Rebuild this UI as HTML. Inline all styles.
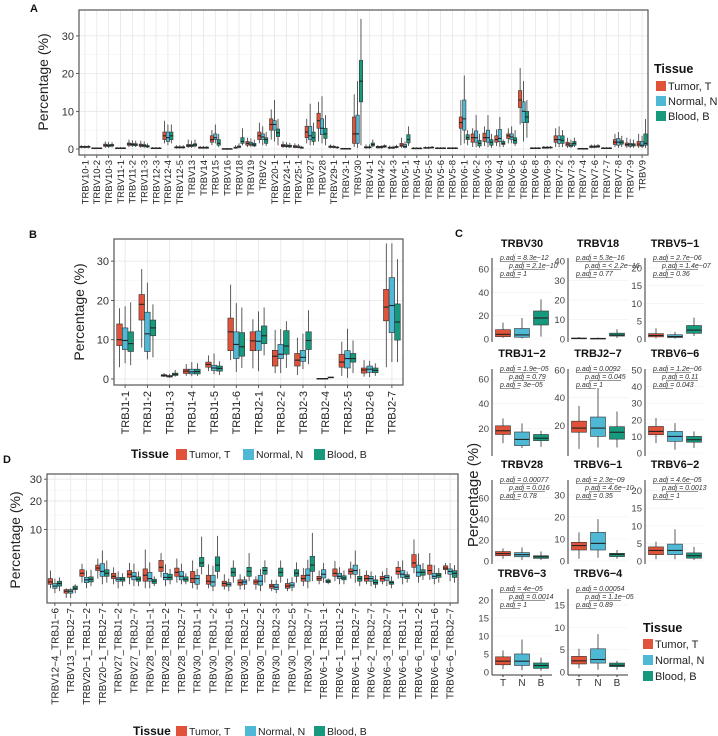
<!DOCTYPE html>
<html><head><meta charset="utf-8"><style>
body{margin:0;background:#fff;}
svg{display:block;font-family:"Liberation Sans",sans-serif;}
</style></head><body>
<svg id="fig" width="718" height="736" viewBox="0 0 718 736" xmlns="http://www.w3.org/2000/svg"></svg>
<script>
// ---------- data ----------
const groups = ["Tumor, T","Normal, N","Blood, B"];
const colors = ["#e0533a","#4fb8d4","#16997d"];

// Panel A: [lo,q1,med,q3,hi]
const catsA = ["TRBV10-1","TRBV10-2","TRBV10-3","TRBV11-1","TRBV11-2","TRBV11-3","TRBV12-3","TRBV12-4","TRBV12-5","TRBV13","TRBV14","TRBV15","TRBV16","TRBV18","TRBV19","TRBV2","TRBV20-1","TRBV24-1","TRBV25-1","TRBV27","TRBV28","TRBV29-1","TRBV3-1","TRBV30","TRBV4-1","TRBV4-2","TRBV4-3","TRBV5-1","TRBV5-4","TRBV5-5","TRBV5-6","TRBV5-8","TRBV6-1","TRBV6-2","TRBV6-3","TRBV6-4","TRBV6-5","TRBV6-6","TRBV6-8","TRBV6-9","TRBV7-2","TRBV7-3","TRBV7-4","TRBV7-6","TRBV7-7","TRBV7-8","TRBV7-9","TRBV9"];
const tumorA = [[0.2,0.4,0.6,0.7,1],[0,0.1,0.2,0.3,0.4],[0.3,0.7,1,1.3,2],[0,0.1,0.2,0.3,0.5],[0.5,1,1.3,1.6,2.5],[0.3,0.7,1,1.3,2.2],[0,0.1,0.2,0.3,0.5],[1.5,2.5,3.5,4.5,7.5],[0.1,0.3,0.4,0.6,1],[0.3,0.6,0.9,1.2,2.5],[0.1,0.2,0.3,0.5,0.8],[1,1.8,2.5,3.5,5],[0,0,0.05,0.1,0.2],[0.1,0.2,0.3,0.5,1],[0.5,1,1.5,2,3],[1.5,2.5,3.5,4.5,7],[2.5,5,6.5,8,10.5],[0.3,0.6,0.9,1.2,2],[0.2,0.4,0.6,0.9,1.5],[1.5,3,4.5,6,8],[2,5.5,7.5,9.5,12.5],[0.2,0.4,0.6,0.8,1.2],[0,0.05,0.1,0.15,0.3],[0.5,1.5,4,8.5,14.5],[0.1,0.3,0.4,0.6,1.2],[0.1,0.3,0.5,0.7,1],[0,0.2,0.3,0.5,0.9],[0.3,0.7,1,1.5,3],[0,0.1,0.15,0.25,0.5],[0.05,0.2,0.3,0.4,0.7],[0,0.1,0.2,0.3,0.5],[0,0.1,0.2,0.3,0.5],[1,5.5,7,8.5,13],[0.5,1.8,3,4,5.5],[0.8,2,3,4.2,6],[0.8,1.8,2.5,3.5,5.2],[1.5,2.8,3.5,4,5.5],[6.5,11,13,15.5,21.5],[0,0.1,0.2,0.3,0.5],[0.1,0.2,0.4,0.5,0.8],[0.5,1.8,2.5,3.5,5.5],[0.3,0.8,1.3,1.8,3],[0,0.05,0.1,0.15,0.3],[0.2,0.4,0.6,0.8,1.2],[0,0.1,0.2,0.3,0.5],[0.5,1.2,1.8,2.5,4],[0.3,0.8,1.2,1.6,3],[0.3,0.8,1.3,2,4]];
const normalA = [[0.2,0.4,0.5,0.7,1],[0,0.1,0.2,0.3,0.4],[0.3,0.6,0.9,1.2,1.9],[0,0.1,0.2,0.3,0.5],[0.5,0.9,1.2,1.5,2.3],[0.3,0.6,0.9,1.2,2],[0,0.1,0.2,0.3,0.5],[1,2,3,4.5,6.5],[0.1,0.3,0.4,0.6,1],[0.3,0.6,0.9,1.2,2.2],[0.1,0.2,0.3,0.5,0.8],[1.5,2.5,3,4,6.5],[0,0,0.05,0.1,0.2],[0.2,0.4,0.6,0.8,1.5],[0.5,1,1.3,1.8,2.8],[1,2.5,3.2,4,6],[2,5,6.5,7.5,13],[0.3,0.6,0.8,1.1,1.8],[0.2,0.4,0.5,0.8,1.3],[1,2.5,3.5,6,12],[1.5,3.8,5.5,8,14],[0.2,0.4,0.5,0.7,1.1],[0,0.05,0.1,0.15,0.3],[0.3,1.5,4,9,18],[0.1,0.3,0.4,0.6,1.2],[0.1,0.3,0.5,0.7,1],[0,0.2,0.3,0.5,0.9],[0.2,0.4,0.7,1.2,2],[0,0.1,0.15,0.25,0.5],[0.05,0.2,0.3,0.4,0.7],[0,0.1,0.2,0.3,0.5],[0,0.1,0.2,0.3,0.5],[1.5,5,8,13,19.5],[0.5,1.8,3,4.8,9],[0.5,1.8,3,5,9],[0.5,2,2.8,5.2,8.5],[1.5,2.5,3.2,4,6],[2,7,10,12.5,18],[0,0.1,0.2,0.3,0.5],[0.1,0.2,0.4,0.5,0.8],[0.5,1.5,2.5,3.5,6],[0.3,0.6,1,1.5,2.5],[0,0.05,0.1,0.15,0.3],[0.2,0.4,0.6,0.8,1.2],[0,0.1,0.2,0.3,0.5],[0.3,1,1.8,2.8,4.5],[0.3,0.7,1.1,1.5,2.6],[0.3,0.7,1,2,3.5]];
const bloodA = [[0.2,0.4,0.6,0.7,1],[0,0.1,0.2,0.3,0.4],[0.4,0.8,1,1.2,1.8],[0,0.1,0.2,0.3,0.5],[0.5,0.9,1.1,1.4,2.2],[0.3,0.5,0.7,0.9,1.5],[0,0.1,0.2,0.3,0.5],[1.5,2.5,3.5,4.5,6.5],[0.1,0.3,0.4,0.6,1],[0.4,0.8,1.1,1.4,2.5],[0.1,0.2,0.3,0.5,0.8],[0.5,1,1.5,2.5,4],[0,0,0.05,0.1,0.2],[1,1.5,2,3,5.5],[0.5,0.8,1.1,1.5,2.5],[0.8,1.5,2.5,3,4.5],[1,3.3,4.3,5.3,8],[0.3,0.5,0.8,1,1.6],[0.1,0.2,0.3,0.5,0.8],[1,2,3,4.5,7],[1,2.8,4,5.5,9],[0.1,0.3,0.4,0.5,0.8],[0,0.05,0.1,0.15,0.3],[1,12.5,18,23.5,34.5],[0.5,0.8,1.2,1.6,2.5],[0.3,0.5,0.7,0.9,1.2],[0.2,0.4,0.5,0.7,1.1],[0.8,1.6,2.5,3.8,6],[0,0.1,0.15,0.25,0.5],[0.1,0.3,0.4,0.5,0.8],[0,0.1,0.2,0.3,0.5],[0,0.1,0.2,0.3,0.5],[1,2.5,3,3.8,5],[0.3,0.8,1.5,2.3,4],[0.3,1,1.8,2.5,4],[0.5,1.2,1.5,2,2.5],[0.8,1.5,2.3,3,5],[3,7,8.5,10,13],[0,0.1,0.2,0.3,0.5],[0.1,0.3,0.4,0.5,0.8],[0.5,1.5,2.3,3.5,5],[0.5,1,1.5,2,3],[0,0.05,0.1,0.15,0.3],[0.3,0.5,0.7,0.9,1.3],[0,0.1,0.2,0.3,0.5],[0.5,1.3,1.8,2.2,3.5],[0.3,0.8,1.1,1.4,2.5],[0.3,1,1.5,4,8]];
const ticksA = [0,10,20,30];

// Panel B
const catsB = ["TRBJ1-1","TRBJ1-2","TRBJ1-3","TRBJ1-4","TRBJ1-5","TRBJ1-6","TRBJ2-1","TRBJ2-2","TRBJ2-3","TRBJ2-4","TRBJ2-5","TRBJ2-6","TRBJ2-7"];
const tumorB = [[3,8.5,10,14,18],[8,15,19,21.5,28],[0.5,0.7,0.9,1.1,1.5],[0.8,1.4,2,2.5,3.8],[2,3,3.7,4.3,6],[4.8,7.2,12,15.5,24],[2.7,7.2,9.7,12,15.2],[1.5,3.3,5.8,7.3,12.5],[1,3.3,4.8,6.5,10.5],[0,0.05,0.1,0.15,0.25],[0.8,3,4.3,6.3,9.5],[0.6,1.5,2.3,2.8,4.8],[3,14.8,18.3,22.8,34.5]];
const normalB = [[4,7.5,9.8,13,18.5],[5,7,11.5,17,24.5],[0.3,0.5,0.7,0.9,1.3],[0.7,1.3,1.8,2.5,4.3],[1.2,2.2,2.8,3.5,6.5],[1.8,5.2,8.8,12,19.3],[2,7.3,9.6,12.2,17.2],[1.5,5.2,6.3,8.8,12.7],[2.5,4.5,5.5,7.3,11.5],[0,0.05,0.1,0.15,0.25],[0.3,2.8,5.2,7.2,12.8],[0.5,1.7,2.5,3.3,4.6],[4.3,11.8,18.7,25.8,34.5]];
const bloodB = [[3.5,7,9,12,19.5],[5.5,11,13,15,19],[0.6,0.9,1.2,1.5,2.3],[0.8,1.3,1.9,2.5,4],[1,2,2.7,3.3,4.5],[2.8,5.8,8.2,11.8,18.2],[6,9,11,13.5,18.2],[2.8,6.3,8.4,12.3,14.7],[3.8,7.5,9.8,12,17.5],[0.2,0.3,0.4,0.5,0.6],[1.5,4.3,5.2,6.5,9.8],[0.8,1.6,2.2,2.8,4],[4.3,9.9,14.5,19.1,30.5]];
const ticksB = [0,10,20,30];

// Panel D (sqrt scale)
const catsD = ["TRBV12\u22124_TRBJ1\u22126","TRBV13_TRBJ2\u22127","TRBV20\u22121_TRBJ1\u22122","TRBV20\u22121_TRBJ2\u22127","TRBV27_TRBJ1\u22122","TRBV27_TRBJ2\u22127","TRBV28_TRBJ1\u22121","TRBV28_TRBJ1\u22122","TRBV28_TRBJ2\u22127","TRBV30_TRBJ1\u22121","TRBV30_TRBJ1\u22122","TRBV30_TRBJ1\u22126","TRBV30_TRBJ2\u22121","TRBV30_TRBJ2\u22122","TRBV30_TRBJ2\u22123","TRBV30_TRBJ2\u22125","TRBV30_TRBJ2\u22127","TRBV6\u22121_TRBJ1\u22121","TRBV6\u22121_TRBJ1\u22122","TRBV6\u22121_TRBJ2\u22127","TRBV6\u22122_TRBJ2\u22127","TRBV6\u22123_TRBJ2\u22127","TRBV6\u22126_TRBJ1\u22121","TRBV6\u22126_TRBJ1\u22122","TRBV6\u22126_TRBJ1\u22126","TRBV6\u22126_TRBJ2\u22127"];
const tumorD = [[0.2,0.4,0.55,0.8,1.6],[0,0.05,0.1,0.15,0.2],[0.5,1,1.3,1.7,2.5],[0.8,1.6,1.9,2.3,3.3],[0.4,0.8,1,1.3,2],[0.4,0.9,1.2,1.6,2.6],[0.2,0.6,1.1,1.8,5],[0.9,1.5,2,3,4.3],[0.5,1,1.4,1.9,3.3],[0.2,0.5,0.8,1.5,3],[0.2,0.4,0.6,1.1,2.4],[0.15,0.3,0.45,0.6,1.2],[0.15,0.35,0.5,0.7,1.2],[0.15,0.4,0.55,0.7,1],[0.1,0.2,0.3,0.4,0.7],[0.1,0.2,0.3,0.45,0.8],[0.3,0.6,0.8,1.1,1.9],[0.4,0.65,0.8,1,1.6],[0.6,1,1.3,1.8,2.9],[0.8,1.2,1.5,1.8,2.8],[0.4,0.6,0.8,1.1,1.6],[0.4,0.6,0.8,1,1.5],[0.8,1.2,1.5,2,2.9],[1.3,2,2.6,4,7.3],[0.7,1.2,1.6,2.3,4.3],[1.2,1.7,1.9,2.2,2.6]];
const normalD = [[0.05,0.2,0.3,0.45,0.8],[0,0.05,0.1,0.15,0.2],[0.2,0.5,0.7,0.9,1.6],[0.4,1,1.5,2.5,4.8],[0.2,0.6,0.75,0.9,1.5],[0.3,0.7,1,1.4,2.5],[0.2,0.6,0.8,1.4,2.7],[0.3,0.7,0.9,1.3,2.4],[0.4,0.7,1,1.5,2.5],[0.15,0.4,0.8,1.1,1.8],[0.1,0.3,0.55,1.1,2.2],[0.1,0.3,0.4,0.5,0.8],[0.15,0.4,0.55,0.7,1],[0.1,0.35,0.6,1.1,1.8],[0.05,0.15,0.25,0.4,0.7],[0.1,0.25,0.35,0.5,0.9],[0.2,0.6,1.1,1.8,3.1],[0.5,0.85,1.2,1.7,2.6],[0.4,0.8,1,1.3,2],[0.5,1.2,1.6,2.3,4.8],[0.3,0.6,0.8,1,1.5],[0.3,0.65,0.9,1.1,1.9],[0.4,0.9,1.2,1.6,3],[0.5,1,1.4,2.3,4.2],[0.4,0.8,1,1.3,2.3],[0.6,1.2,1.5,1.8,2.6]];
const bloodD = [[0.1,0.3,0.45,0.6,0.9],[0.05,0.15,0.2,0.3,0.4],[0.3,0.55,0.75,0.95,1.7],[0.5,1,1.3,1.7,3],[0.3,0.6,0.75,0.9,1.3],[0.3,0.6,0.75,0.95,1.5],[0.3,0.45,0.6,0.75,1],[0.4,0.7,0.9,1.2,1.8],[0.4,0.6,0.75,0.95,1.3],[1.2,2.1,2.6,3.5,8],[0.8,1.5,2.3,3.6,8.2],[0.5,1,1.4,1.9,3],[0.6,1,1.5,2,4.3],[0.5,1.2,1.6,2,3],[0.5,1,1.4,1.9,3],[0.5,1,1.3,1.7,2.7],[0.6,1.5,2.3,3.7,9],[0.4,0.5,0.6,0.7,0.8],[0.4,0.7,0.85,1.05,1.6],[0.3,0.6,0.8,1,1.8],[0.2,0.4,0.5,0.7,1.1],[0.2,0.4,0.5,0.6,1],[0.5,0.8,1,1.15,1.5],[0.7,1.1,1.4,1.7,2.6],[0.5,0.9,1.1,1.3,1.9],[0.5,0.9,1.3,1.6,2.3]];
const ticksD = [10,20,30];

// Panel C
const titlesC = ["TRBV30","TRBV18","TRBV5\u22121","TRBJ1\u22122","TRBJ2\u22127","TRBV6\u22126","TRBV28","TRBV6\u22121","TRBV6\u22122","TRBV6\u22123","TRBV6\u22124"];
const tumorC = [[1,2,4,8,14],[0,0.1,0.3,0.5,1],[0.2,0.6,1,1.5,3],[8,15,18,22,28],[3,15,18,23,34],[6,11,13,16,21],[2,5,7,9,12],[1,5,7,8.5,13],[0.5,1.8,3,4,5.5],[0.8,2,3,4.2,6],[0.8,1.8,2.5,3.5,5.2]];
const normalC = [[0.5,1.5,3.5,9,18],[0,0.1,0.2,0.4,0.8],[0.1,0.4,0.7,1.2,2],[4,6,11,17,24],[4,12,18,26,47],[2,7,10,13,18],[1,4,6,8,13],[1.5,5,8,13,19],[0.5,1.8,3,4.8,9],[0.5,1.8,3,5,9],[0.5,2,2.8,5.2,8.5]];
const bloodC = [[2,12,18,24,34],[0.5,1.5,2,3,5],[0.8,1.6,2.5,3.8,6],[5,10,12,15,18],[4,10,15,19,30],[3,6.5,8,10,13],[1,2.5,4,5,9],[1,2,3,3.5,5],[0.3,0.8,1.5,2.3,4],[0.3,1,1.8,2.5,4],[0.5,1.2,1.5,2,2.5]];
const ymaxC = [69.4,41.5,22.8,68,60.7,50.6,77,36.8,23,23,18.6];
const ticksC = [[0,20,40,60],[0,10,20,30,40],[0,5,10,15,20],[20,40,60],[20,40,60],[0,10,20,30,40,50],[0,20,40,60],[0,10,20,30],[0,5,10,15,20],[0,5,10,15,20],[0,5,10,15]];
const pvalsC = [["8.3e\u221212","2.1e\u221210","1"],["5.3e\u221216","< 2.2e\u221216","0.77"],["2.7e\u221206","1.4e\u221207","0.36"],["1.9e\u221205","0.79","3e\u221205"],["0.0092","0.045","1"],["1.2e\u221206","0.11","0.043"],["0.00077","0.016","0.78"],["2.3e\u221209","4.6e\u221210","0.35"],["4.6e\u221205","0.0013","1"],["4e\u221205","0.0014","1"],["0.00054","1.1e\u221205","0.89"]];

// ---------- drawing ----------
const NS="http://www.w3.org/2000/svg";
const svg=document.getElementById('fig');
function mk(tag,attrs,parent,text){const e=document.createElementNS(NS,tag);for(const k in attrs)e.setAttribute(k,attrs[k]);if(text!==undefined)e.textContent=text;(parent||svg).appendChild(e);return e;}
function grp(name){const g=mk('g',{});


return g;}
function box(g,x,w,st,ys,col,name){
 const b=grp(name);g.appendChild(b);
 mk('line',{x1:x,x2:x,y1:ys(st[0]),y2:ys(st[4]),stroke:'#333','stroke-width':0.8},b);
 const y1=ys(st[3]),y2=ys(st[1]);
 mk('rect',{x:x-w/2,y:y1,width:w,height:Math.max(0.8,y2-y1),fill:col,stroke:'#333','stroke-width':0.6},b);
 mk('line',{x1:x-w/2,x2:x+w/2,y1:ys(st[2]),y2:ys(st[2]),stroke:'#222','stroke-width':1.1},b);
}
function letter(t,x,y){const e=mk('text',{x:x,y:y,'font-size':11,'font-weight':'bold',fill:'#111'},svg,t);

}
function ytitle(x,y,size){const e=mk('text',{x:x,y:y,'font-size':size,fill:'#222','text-anchor':'middle',transform:`rotate(-90 ${x} ${y})`},svg,'Percentage (%)');

}
function legendH(x,y,xs){const g=grp('legend');
 mk('text',{x:x,y:y+4,'font-size':12,'font-weight':'bold',fill:'#111'},g,'Tissue');
 groups.forEach((n,i)=>{const e=grp('legend-entry');g.appendChild(e);
  mk('rect',{x:xs[i],y:y-5,width:11,height:11,fill:colors[i]},e);
  mk('text',{x:xs[i]+13,y:y+4,'font-size':10.5,fill:'#222'},e,n);});}

function gridPanel(name,L,R,T,B,cats,series,ys,ticks,bw,lblFont,lblY){
 const g=grp(name);
 const n=cats.length,step=(R-L)/n;
 mk('rect',{x:L,y:T,width:R-L,height:B-T,fill:'#fff'},g);
 for(let i=0;i<ticks.length;i++){const y=ys(ticks[i]);mk('line',{x1:L,x2:R,y1:y,y2:y,stroke:'#e6e6e6','stroke-width':0.8},g);
  if(i<ticks.length-1){const ym=(y+ys(ticks[i+1]))/2;mk('line',{x1:L,x2:R,y1:ym,y2:ym,stroke:'#f2f2f2','stroke-width':0.5},g);}}
 for(let i=0;i<n;i++){const x=L+step*(i+0.5);mk('line',{x1:x,x2:x,y1:T,y2:B,stroke:'#e6e6e6','stroke-width':0.8},g);}
 for(let i=0;i<n;i++){const x=L+step*(i+0.5);
  series.forEach((s,j)=>box(g,x+(j-1)*bw,bw,s[i],ys,colors[j],'box-'+cats[i]+'-'+'tnb'[j]));
  mk('line',{x1:x,x2:x,y1:B,y2:B+3,stroke:'#333','stroke-width':0.8},g);
  const t=mk('text',{x:x+lblFont*0.35,y:lblY,'font-size':lblFont,fill:'#222','text-anchor':'end',transform:`rotate(-90 ${x+lblFont*0.35} ${lblY})`},g,cats[i]);
  
  }
 ticks.forEach(v=>{const y=ys(v);mk('line',{x1:L-3,x2:L,y1:y,y2:y,stroke:'#333','stroke-width':0.8},g);
  const t=mk('text',{x:L-5,y:y+4,'font-size':11,fill:'#333','text-anchor':'end'},g,String(v));
  
  });
 mk('rect',{x:L,y:T,width:R-L,height:B-T,fill:'none',stroke:'#555','stroke-width':1.2},g);
}

// Panel A
letter('A',30,12);
const ysA=v=>149-v*3.77;
gridPanel('panel-a',79,648,10,155,catsA,[tumorA,normalA,bloodA],ysA,ticksA,3.4,9.5,160);
ytitle(48,82,14);
(function(){const g=grp('legend-a');mk('text',{x:654,y:73,'font-size':12.5,'font-weight':'bold',fill:'#111'},g,'Tissue');
 groups.forEach((n,i)=>{const e=grp('legend-entry');g.appendChild(e);mk('rect',{x:656,y:81+i*15,width:10,height:10,fill:colors[i]},e);mk('text',{x:668,y:90+i*15,'font-size':11,fill:'#222'},e,n);});})();

// Panel B
letter('B',29,238);
const ysB=v=>379-v*3.93;
gridPanel('panel-b',114,403,239,385,catsB,[tumorB,normalB,bloodB],ysB,ticksB,5.6,11,391);
ytitle(84,312,14);
legendH(131,454,[176,243,314]);

// Panel D
letter('D',3,463);
const ysD=v=>598-Math.sqrt(v)*21.7;
gridPanel('panel-d',47,458,474,603,catsD,[tumorD,normalD,bloodD],ysD,ticksD,4.5,10,608);
ytitle(20,540,14);
legendH(133,731,[176,245,314]);

// Panel C
letter('C',455,237);
ytitle(478,495,15);
const colX=[492,568,645];
const rowsC=[{t:247,top:258,zero:339},{t:357,top:369,zero:453},{t:468,top:480,zero:561},{t:577,top:589,zero:672}];
titlesC.forEach((title,k)=>{
 const r=rowsC[Math.floor(k/3)],ax=colX[k%3];
 const g=grp('panel-c-'+title);
 const ys=v=>r.zero-v*(r.zero-r.top)/ymaxC[k];
 const tt=mk('text',{x:ax+30,y:r.t,'font-size':11,'font-weight':'bold',fill:'#111','text-anchor':'middle'},g,title);
 
 
 ticksC[k].forEach(v=>{mk('text',{x:ax-3,y:ys(v)+3.5,'font-size':9.5,fill:'#444','text-anchor':'end'},g,String(v));
   mk('line',{x1:ax,x2:ax+60,y1:ys(v),y2:ys(v),stroke:'#f0f0f0','stroke-width':0.6},g);});
 mk('line',{x1:ax,x2:ax,y1:r.top,y2:r.zero+3,stroke:'#333','stroke-width':1},g);
 [tumorC,normalC,bloodC].forEach((s,j)=>box(g,ax+11+j*19,15,s[k],ys,colors[j],'box-'+title+'-'+'TNB'[j]));
 const py=r.top+2,pv=pvalsC[k];
 const offs=[[8,0],[17,8],[8,16]];
 pv.forEach((p,i)=>{const x=ax+offs[i][0],y=py+offs[i][1];
  mk('text',{x:x,y:y,'font-size':7,fill:'#333','font-style':'italic'},g,'p.adj = '+p);
  mk('line',{x1:x+(i==1?4:0),x2:x+(i==0?38:i==1?36:20),y1:y+1.5,y2:y+1.5,stroke:'#333','stroke-width':0.6},g);});
 if(k>=9){mk('line',{x1:ax,x2:ax+60,y1:r.zero+3,y2:r.zero+3,stroke:'#333','stroke-width':1},g);
  ['T','N','B'].forEach((l,j)=>{mk('line',{x1:ax+11+j*19,x2:ax+11+j*19,y1:r.zero+3,y2:r.zero+5,stroke:'#333'},g);
   mk('text',{x:ax+11+j*19,y:r.zero+14,'font-size':10,fill:'#333','text-anchor':'middle'},g,l);});}
});
(function(){const g=grp('legend-c');mk('text',{x:643,y:632,'font-size':12.5,'font-weight':'bold',fill:'#111'},g,'Tissue');
 groups.forEach((n,i)=>{const e=grp('legend-entry');g.appendChild(e);mk('rect',{x:643,y:639+i*16,width:10,height:10,fill:colors[i]},e);mk('text',{x:655,y:648+i*16,'font-size':11,fill:'#222'},e,n);});})();
</script>
</body></html>
